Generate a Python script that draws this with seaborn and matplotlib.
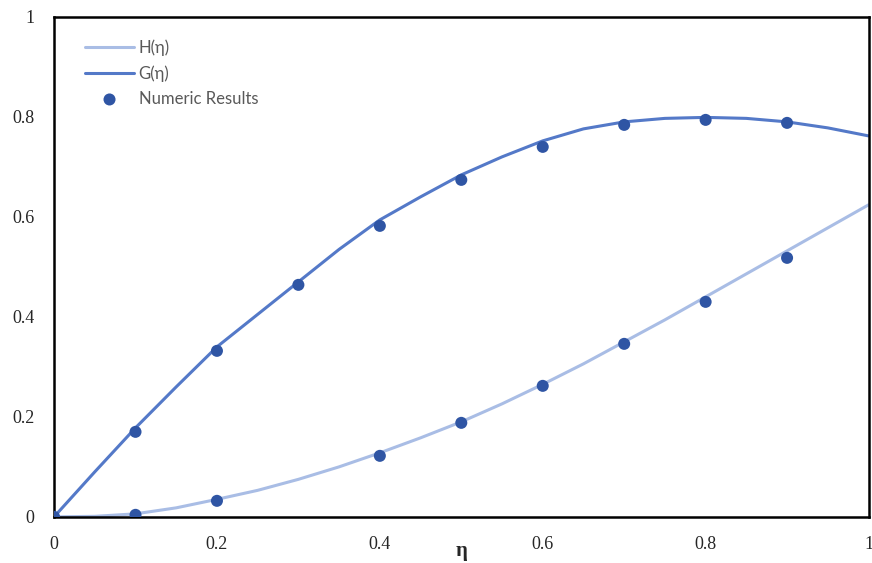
import numpy as np
import pandas as pd
import seaborn as sns
import matplotlib.pyplot as plt

# smooth curves
eta_line = [0.0, 0.05, 0.1, 0.15, 0.2, 0.25, 0.3, 0.35, 0.4, 0.45, 0.5,
            0.55, 0.6, 0.65, 0.7, 0.75, 0.8, 0.85, 0.9, 0.95, 1.0]
G_line = [0.0, 0.09, 0.178, 0.26, 0.34, 0.405, 0.47, 0.535, 0.594, 0.64, 0.684,
          0.72, 0.752, 0.776, 0.79, 0.797, 0.799, 0.797, 0.79, 0.778, 0.762]
H_line = [0.0, 0.001, 0.006, 0.018, 0.035, 0.053, 0.075, 0.1, 0.128, 0.158, 0.19,
          0.226, 0.265, 0.306, 0.35, 0.394, 0.44, 0.486, 0.532, 0.578, 0.624]

# numeric results
eta_G = [0.0, 0.1, 0.2, 0.3, 0.4, 0.5, 0.6, 0.7, 0.8, 0.9]
G_num = [0.0, 0.17, 0.332, 0.464, 0.582, 0.674, 0.74, 0.784, 0.794, 0.788]
eta_H = [0.1, 0.2, 0.4, 0.5, 0.6, 0.7, 0.8, 0.9]
H_num = [0.004, 0.032, 0.122, 0.188, 0.262, 0.346, 0.43, 0.518]

sns.set_style("white")

fig = plt.figure(figsize=(8.72, 5.63), dpi=100)
ax = fig.add_axes([0.062, 0.082, 0.934, 0.888])

sns.lineplot(x=eta_line, y=H_line, ax=ax, color="#A9BDE5", linewidth=2.2, label="H(η)")
sns.lineplot(x=eta_line, y=G_line, ax=ax, color="#5479C8", linewidth=2.2, label="G(η)")
pts = pd.DataFrame({"eta": eta_G + eta_H, "val": G_num + H_num})
sns.scatterplot(data=pts, x="eta", y="val", ax=ax, color="#2F55A4", s=75,
                edgecolor="none", label="Numeric Results", zorder=5)

ax.set_xlim(0, 1)
ax.set_ylim(0, 1)
ax.set_xticks([0, 0.2, 0.4, 0.6, 0.8, 1])
ax.set_xticklabels(["0", "0.2", "0.4", "0.6", "0.8", "1"])
ax.set_yticks([0, 0.2, 0.4, 0.6, 0.8, 1])
ax.set_yticklabels(["0", "0.2", "0.4", "0.6", "0.8", "1"])
ax.tick_params(length=0, pad=14, labelsize=13)
for lab in ax.get_xticklabels() + ax.get_yticklabels():
    lab.set_fontfamily("Liberation Serif")

ax.set_xlabel("η", fontsize=15, fontweight="bold", family="Liberation Serif", labelpad=-9)
ax.set_ylabel("")

for s in ax.spines.values():
    s.set_color("black")
    s.set_linewidth(1.8)

leg = ax.legend(loc="upper left", bbox_to_anchor=(0.02, 0.985), frameon=False,
                prop={"family": "Lato", "size": 12}, handlelength=2.9,
                handletextpad=0.3, labelspacing=0.55)
for t in leg.get_texts():
    t.set_color("#595959")

fig.savefig("out.png", dpi=100)
